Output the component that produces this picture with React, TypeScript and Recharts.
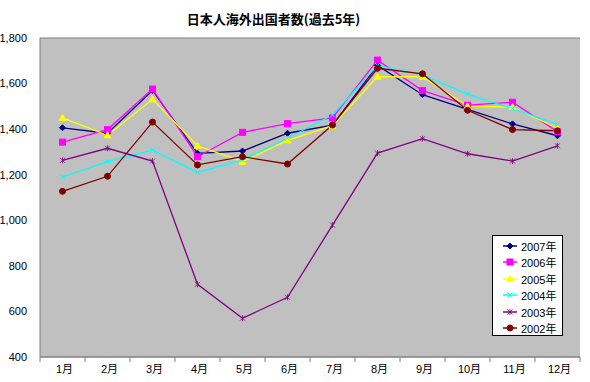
import React from 'react'
import { LineChart, Line, XAxis, YAxis, CartesianGrid } from 'recharts'

const months = ['1月', '2月', '3月', '4月', '5月', '6月', '7月', '8月', '9月', '10月', '11月', '12月']
const y2007 = [1406, 1382, 1570, 1294, 1304, 1382, 1418, 1680, 1551, 1487, 1423, 1371]
const y2006 = [1343, 1398, 1576, 1279, 1386, 1424, 1449, 1703, 1569, 1505, 1518, 1389]
const y2005 = [1449, 1373, 1531, 1327, 1257, 1351, 1415, 1630, 1630, 1500, 1497, 1404]
const y2004 = [1190, 1257, 1308, 1210, 1265, 1360, 1462, 1680, 1638, 1554, 1491, 1421]
const y2003 = [1263, 1316, 1260, 719, 570, 662, 979, 1295, 1358, 1292, 1260, 1327]
const y2002 = [1127, 1193, 1431, 1243, 1279, 1247, 1418, 1667, 1643, 1483, 1398, 1393]
const yTicks = [400, 600, 800, 1000, 1200, 1400, 1600, 1800]

const series = [
  { key: 'y2007', name: '2007年', color: '#000080', shape: 'diamond', values: y2007 },
  { key: 'y2006', name: '2006年', color: '#FF00FF', shape: 'square', values: y2006 },
  { key: 'y2005', name: '2005年', color: '#FFFF00', shape: 'triangle', values: y2005 },
  { key: 'y2004', name: '2004年', color: '#00FFFF', shape: 'cross', values: y2004 },
  { key: 'y2003', name: '2003年', color: '#800080', shape: 'star', values: y2003 },
  { key: 'y2002', name: '2002年', color: '#800000', shape: 'circle', values: y2002 },
]

const data = months.map((month, i) => {
  const row: Record<string, string | number> = { month }
  series.forEach((s) => { row[s.key] = s.values[i] })
  return row
})

const fontFamily = '"Liberation Sans", Arial, "Noto Sans CJK JP", sans-serif'

function Marker({ cx, cy, shape, color }: { cx: number; cy: number; shape: string; color: string }) {
  if (cx == null || cy == null) return null
  switch (shape) {
    case 'diamond':
      return <path d={`M${cx},${cy - 3}L${cx + 3},${cy}L${cx},${cy + 3}L${cx - 3},${cy}Z`} fill={color} stroke={color} />
    case 'square':
      return <rect x={cx - 3} y={cy - 3} width={6} height={6} fill={color} stroke={color} />
    case 'triangle':
      return <path d={`M${cx},${cy - 3.5}L${cx + 3.5},${cy + 2.5}L${cx - 3.5},${cy + 2.5}Z`} fill={color} stroke={color} />
    case 'cross':
      return (
        <g stroke={color} strokeWidth={1}>
          <line x1={cx - 2.5} y1={cy - 2.5} x2={cx + 2.5} y2={cy + 2.5} />
          <line x1={cx - 2.5} y1={cy + 2.5} x2={cx + 2.5} y2={cy - 2.5} />
        </g>
      )
    case 'star':
      return (
        <g stroke={color} strokeWidth={0.8}>
          <line x1={cx - 2.5} y1={cy - 2.5} x2={cx + 2.5} y2={cy + 2.5} />
          <line x1={cx - 2.5} y1={cy + 2.5} x2={cx + 2.5} y2={cy - 2.5} />
          <line x1={cx} y1={cy - 3} x2={cx} y2={cy + 3} />
        </g>
      )
    default:
      return <circle cx={cx} cy={cy} r={3} fill={color} stroke={color} />
  }
}

function MonthTick(props: any) {
  const { x, y, payload, index, visibleTicksCount } = props
  const half = 22.5
  return (
    <g>
      <line x1={x - half} x2={x - half} y1={y} y2={y + 5} stroke="#808080" />
      {index === (visibleTicksCount ?? 12) - 1 && (
        <line x1={x + half} x2={x + half} y1={y} y2={y + 5} stroke="#808080" />
      )}
      <text x={x + 2} y={y + 16} textAnchor="middle" fontSize={11} fill="#000" fontFamily={fontFamily}>
        {payload.value}
      </text>
    </g>
  )
}

function LegendBox() {
  return (
    <div
      style={{
        position: 'absolute',
        left: 492,
        top: 235,
        width: 69,
        height: 99,
        background: '#fff',
        border: '1px solid #000',
        fontFamily,
        fontSize: 11,
      }}
    >
      {series.map((s, i) => (
        <div key={s.key} style={{ position: 'absolute', left: 0, top: 2 + i * 16.4, height: 16, display: 'flex', alignItems: 'center' }}>
          <svg width={28} height={16}>
            <line x1={10} x2={24} y1={8} y2={8} stroke={s.color} strokeWidth={1.5} />
            <Marker cx={17} cy={8} shape={s.shape} color={s.color} />
          </svg>
          <span>{s.name}</span>
        </div>
      ))}
    </div>
  )
}

export default function App() {
  return (
    <div style={{ position: 'absolute', left: 0, top: 0, width: 590, height: 382, background: '#fff' }}>
      <div
        style={{
          position: 'absolute',
          left: 0,
          top: 10,
          width: 547,
          textAlign: 'center',
          fontFamily: '"Noto Sans CJK JP", sans-serif',
          fontWeight: 'bold',
          fontSize: 13,
          lineHeight: '18px',
        }}
      >
        日本人海外出国者数(過去5年)
      </div>
      <LineChart width={590} height={382} data={data} margin={{ top: 38, right: 10, left: 0, bottom: 0 }}>
        <CartesianGrid vertical={false} fill="#C0C0C0" stroke="#808080" strokeWidth={1} />
        <XAxis
          dataKey="month"
          height={25}
          padding={{ left: 22.5, right: 22.5 }}
          tickSize={0}
          tickMargin={0}
          tickLine={false}
          axisLine={{ stroke: '#808080' }}
          tick={<MonthTick />}
          interval={0}
        />
        <YAxis
          yAxisId="left"
          width={40}
          domain={[400, 1800]}
          ticks={yTicks}
          tickFormatter={(v) => v.toLocaleString('en-US')}
          tick={{ fontSize: 11, fill: '#000', fontFamily }}
          tickLine={false}
          tickMargin={7}
          axisLine={{ stroke: '#808080' }}
        />
        <YAxis yAxisId="right" orientation="right" width={0} domain={[400, 1800]} tick={false} axisLine={{ stroke: '#A0A0A0' }} />
        {series.map((s) => (
          <Line
            key={s.key}
            yAxisId="left"
            dataKey={s.key}
            name={s.name}
            stroke={s.color}
            strokeWidth={1.3}
            isAnimationActive={false}
            dot={(p: any) => <Marker key={`${s.key}-${p.index}`} cx={p.cx} cy={p.cy} shape={s.shape} color={s.color} />}
            activeDot={false}
          />
        ))}
      </LineChart>
      <LegendBox />
    </div>
  )
}
